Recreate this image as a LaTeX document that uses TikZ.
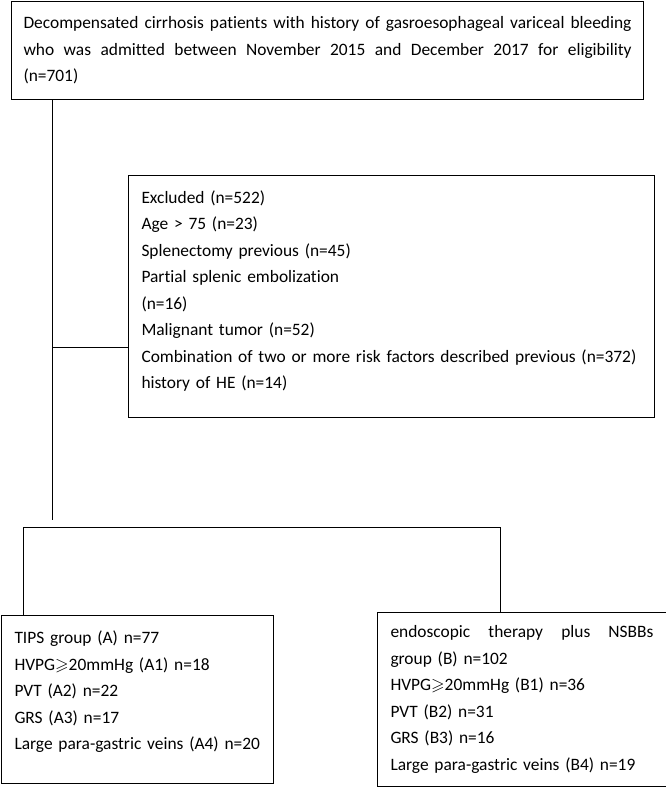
\documentclass[tikz,border=0pt]{standalone}
\usepackage{fontspec}
\setmainfont{Carlito}[Ligatures=NoCommon]
\usepackage{amssymb}
\usetikzlibrary{positioning}
% one line spread to the given width
\newcommand{\fullline}[2]{\leavevmode\hbox to #1{\spaceskip=0.226em plus 1fil\relax #2}}
\tikzset{
    flow box/.style={rectangle, draw, line width=1pt, anchor=north west, inner xsep=13pt, inner ysep=0pt, align=left, font=\fontsize{17.4}{26.5}\selectfont},
    flow line/.style={line width=1pt}
}

\begin{document}
\begin{tikzpicture}[x=1pt,y=-1pt]
\useasboundingbox (0,0) rectangle (666,787);
\node[flow box, inner xsep=12pt, text width=608pt, minimum height=98pt] (screen) at (11,1) {\fullline{608pt}{Decompensated cirrhosis patients with history of gasroesophageal variceal bleeding}\\ \fullline{608pt}{who was admitted between November 2015 and December 2017 for eligibility}\\ (n=701)};
\node[flow box, text width=500pt, minimum height=242pt] (excluded) at (128,175) {Excluded (n=522)\\ Age > 75 (n=23)\\ Splenectomy previous (n=45)\\ Partial splenic embolization\\ (n=16)\\ Malignant tumor (n=52)\\ Combination of two or more risk factors described previous (n=372)\\ history of HE (n=14)\rule[-14pt]{0pt}{0pt}};
\node[flow box, text width=246pt, minimum height=168pt] (tips) at (1,615) {TIPS group (A) n=77\\ HVPG$\geqslant$20mmHg (A1) n=18\\ PVT (A2) n=22\\ GRS (A3) n=17\\ Large para-gastric veins (A4) n=20\rule[-18pt]{0pt}{0pt}};
\node[flow box, text width=263pt, minimum height=174pt] (endo) at (377,612) {\fullline{263pt}{endoscopic therapy plus NSBBs}\\ group (B) n=102\\ HVPG$\geqslant$20mmHg (B1) n=36\\ PVT (B2) n=31\\ GRS (B3) n=16\\ Large para-gastric veins (B4) n=19};

\coordinate (trunk) at ([xshift=41pt]screen.south west);
\coordinate (split) at (52,520);
\coordinate (excl join) at ([yshift=71pt]excluded.south west);
\coordinate (bar left) at (23,527);
\coordinate (bar right) at (500,527);

\draw[flow line] (trunk) -- (split);
\draw[flow line] (trunk |- excl join) -- (excl join);
\draw[flow line] (tips.north west -| bar left) -- (bar left) -- (bar right) -- (bar right |- endo.north);
\end{tikzpicture}
\end{document}
